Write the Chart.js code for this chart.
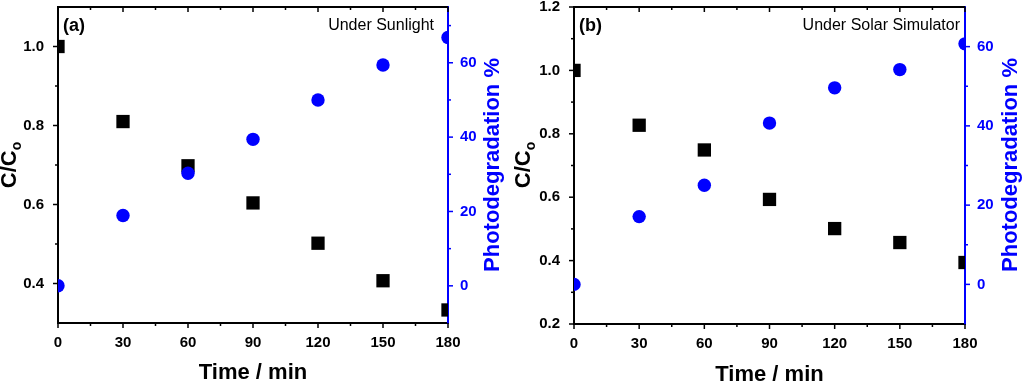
<!DOCTYPE html>
<html>
<head>
<meta charset="utf-8">
<script src="https://cdn.jsdelivr.net/npm/chart.js@4/dist/chart.umd.min.js"></script>
<style>
  body { margin: 0; background: #fff; width: 1024px; height: 384px; overflow: hidden; display: flex; }
  canvas { display: block; }
</style>
</head>
<body>
<canvas id="chartA" width="512" height="384"></canvas>
<canvas id="chartB" width="512" height="384"></canvas>
<script>
// ---------- data ----------
const timeMin = [0, 30, 60, 90, 120, 150, 180];

const ratioSunlight = [1.0, 0.81, 0.698, 0.604, 0.502, 0.407, 0.333];
const degradSunlight = [0, 18.9, 30.3, 39.4, 50.0, 59.4, 66.8];

const ratioSimulator = [1.0, 0.827, 0.749, 0.593, 0.501, 0.457, 0.394];
const degradSimulator = [0, 17.1, 25.0, 40.7, 49.6, 54.2, 60.7];

// ---------- ticks ----------
const timeTicks = [0, 30, 60, 90, 120, 150, 180];
const timeMinor = [15, 45, 75, 105, 135, 165];

const ratioTicksA = [0.4, 0.6, 0.8, 1.0];
const ratioMinorA = [0.5, 0.7, 0.9];
const degradTicksA = [0, 20, 40, 60];
const degradMinorA = [10, 30, 50, 70];

const ratioTicksB = [0.2, 0.4, 0.6, 0.8, 1.0, 1.2];
const ratioMinorB = [0.3, 0.5, 0.7, 0.9, 1.1];
const degradTicksB = [0, 20, 40, 60];
const degradMinorB = [10, 30, 50];

const BLUE = '#0000ff';
const FONT = "'Liberation Sans', Arial, sans-serif";

const toPoints = (xs, ys) => xs.map((x, i) => ({ x, y: ys[i] }));

// tick marks + top frame line
const frameTicks = {
    id: 'frameTicks',
    afterDraw(chart, args, opts) {
        const { ctx, chartArea: a, scales } = chart;
        ctx.save();
        // top frame
        ctx.strokeStyle = '#000';
        ctx.lineWidth = 2;
        ctx.beginPath();
        ctx.moveTo(a.left - 1, a.top);
        ctx.lineTo(a.right, a.top);
        ctx.stroke();

        ctx.lineWidth = 1.5;
        opts.marks.forEach(m => {
            const scale = scales[m.scale];
            ctx.strokeStyle = m.color;
            [[m.major, 5], [m.minor, 3]].forEach(([vals, len]) => {
                vals.forEach(v => {
                    const p = scale.getPixelForValue(v);
                    ctx.beginPath();
                    if (m.side === 'bottom') { ctx.moveTo(p, a.bottom); ctx.lineTo(p, a.bottom + len); }
                    if (m.side === 'top') { ctx.moveTo(p, a.top); ctx.lineTo(p, a.top + len); }
                    if (m.side === 'left') { ctx.moveTo(a.left, p); ctx.lineTo(a.left - len, p); }
                    if (m.side === 'right') { ctx.moveTo(a.right, p); ctx.lineTo(a.right + len, p); }
                    ctx.stroke();
                });
            });
        });
        ctx.restore();
    }
};

// axis titles and panel labels
const panelText = {
    id: 'panelText',
    afterDraw(chart, args, opts) {
        const { ctx, chartArea: a } = chart;
        ctx.save();
        ctx.textBaseline = 'middle';

        // x title
        ctx.fillStyle = '#000';
        ctx.font = `bold 22px ${FONT}`;
        ctx.textAlign = 'center';
        ctx.fillText('Time / min', (a.left + a.right) / 2, opts.xTitleY);

        // left title C/Co with subscript
        ctx.save();
        ctx.translate(opts.leftTitleX, opts.titleY);
        ctx.rotate(-Math.PI / 2);
        ctx.font = `bold 22px ${FONT}`;
        const w1 = ctx.measureText('C/C').width;
        ctx.font = `bold 14px ${FONT}`;
        const w2 = ctx.measureText('o').width;
        const start = -(w1 + w2) / 2;
        ctx.textAlign = 'left';
        ctx.font = `bold 22px ${FONT}`;
        ctx.fillText('C/C', start, 0);
        ctx.font = `bold 14px ${FONT}`;
        ctx.fillText('o', start + w1, 7);
        ctx.restore();

        // right title
        ctx.save();
        ctx.translate(opts.rightTitleX, opts.titleY);
        ctx.rotate(-Math.PI / 2);
        ctx.fillStyle = BLUE;
        ctx.font = `bold 22px ${FONT}`;
        ctx.textAlign = 'center';
        ctx.fillText('Photodegradation %', 0, 0);
        ctx.restore();

        // panel tag and condition
        ctx.fillStyle = '#000';
        ctx.font = `bold 18px ${FONT}`;
        ctx.textAlign = 'left';
        ctx.fillText(opts.tag, a.left + 5, 26);
        ctx.font = `16px ${FONT}`;
        ctx.textAlign = 'right';
        ctx.fillText(opts.note, opts.noteRight, 26);
        ctx.restore();
    }
};

const makeChart = (id, p) => new Chart(document.getElementById(id), {
    type: 'scatter',
    data: {
        datasets: [
            {
                label: 'Photodegradation',
                data: toPoints(timeMin, p.degrad),
                yAxisID: 'y2',
                pointStyle: 'circle',
                pointRadius: 6.7,
                pointHoverRadius: 6.7,
                backgroundColor: BLUE,
                borderColor: BLUE,
                borderWidth: 0,
                clip: 0,
                order: 0
            },
            {
                label: 'C/Co',
                data: toPoints(timeMin, p.ratio),
                yAxisID: 'y',
                pointStyle: 'rect',
                pointRadius: 9.4,
                pointHoverRadius: 9.4,
                backgroundColor: '#000',
                borderColor: '#000',
                borderWidth: 0,
                clip: 0,
                order: 1
            }
        ]
    },
    options: {
        responsive: false,
        animation: false,
        layout: { autoPadding: false, padding: { top: p.top } },
        plugins: {
            legend: { display: false },
            tooltip: { enabled: false },
            frameTicks: {
                marks: [
                    { scale: 'x', side: 'bottom', major: timeTicks, minor: timeMinor, color: '#000' },
                    { scale: 'x', side: 'top', major: timeTicks, minor: timeMinor, color: '#000' },
                    { scale: 'y', side: 'left', major: p.ratioTicks, minor: p.ratioMinor, color: '#000' },
                    { scale: 'y2', side: 'right', major: p.degradTicks, minor: p.degradMinor, color: BLUE }
                ]
            },
            panelText: p.text
        },
        scales: {
            x: {
                type: 'linear',
                position: 'bottom',
                min: 0, max: 180,
                afterBuildTicks: s => { s.ticks = timeTicks.map(v => ({ value: v })); },
                afterFit: s => { s.height = p.bottom; s.paddingLeft = 0; s.paddingRight = 0; },
                grid: { display: false },
                border: { display: true, color: '#000', width: 2 },
                ticks: { color: '#000', padding: 3, maxRotation: 0, font: { family: FONT, size: 15, weight: 'bold' } }
            },
            y: {
                type: 'linear',
                position: 'left',
                min: p.ratioMin, max: p.ratioMax,
                afterBuildTicks: s => { s.ticks = p.ratioTicks.map(v => ({ value: v })); },
                afterFit: s => { s.width = p.left; s.paddingTop = 0; s.paddingBottom = 0; },
                grid: { display: false },
                border: { display: true, color: '#000', width: 2 },
                ticks: { color: '#000', padding: 6, callback: v => v.toFixed(1), font: { family: FONT, size: 15, weight: 'bold' } }
            },
            y2: {
                type: 'linear',
                position: 'right',
                min: p.degradMin, max: p.degradMax,
                afterBuildTicks: s => { s.ticks = p.degradTicks.map(v => ({ value: v })); },
                afterFit: s => { s.width = p.right; s.paddingTop = 0; s.paddingBottom = 0; },
                grid: { display: false },
                border: { display: true, color: BLUE, width: 2 },
                ticks: { color: BLUE, padding: 4, font: { family: FONT, size: 15, weight: 'bold' } }
            }
        }
    },
    plugins: [frameTicks, panelText]
});

makeChart('chartA', {
    ratio: ratioSunlight, degrad: degradSunlight,
    ratioMin: 0.3, ratioMax: 1.1, ratioTicks: ratioTicksA, ratioMinor: ratioMinorA,
    degradMin: -10, degradMax: 75, degradTicks: degradTicksA, degradMinor: degradMinorA,
    top: 7, bottom: 61, left: 58, right: 64,
    text: { tag: '(a)', note: 'Under Sunlight', noteRight: 434, xTitleY: 373, leftTitleX: 10, rightTitleX: 493, titleY: 165 }
});

makeChart('chartB', {
    ratio: ratioSimulator, degrad: degradSimulator,
    ratioMin: 0.2, ratioMax: 1.2, ratioTicks: ratioTicksB, ratioMinor: ratioMinorB,
    degradMin: -10, degradMax: 70, degradTicks: degradTicksB, degradMinor: degradMinorB,
    top: 7, bottom: 60, left: 62, right: 59,
    text: { tag: '(b)', note: 'Under Solar Simulator', noteRight: 448, xTitleY: 375, leftTitleX: 12, rightTitleX: 499, titleY: 165 }
});
</script>
</body>
</html>
